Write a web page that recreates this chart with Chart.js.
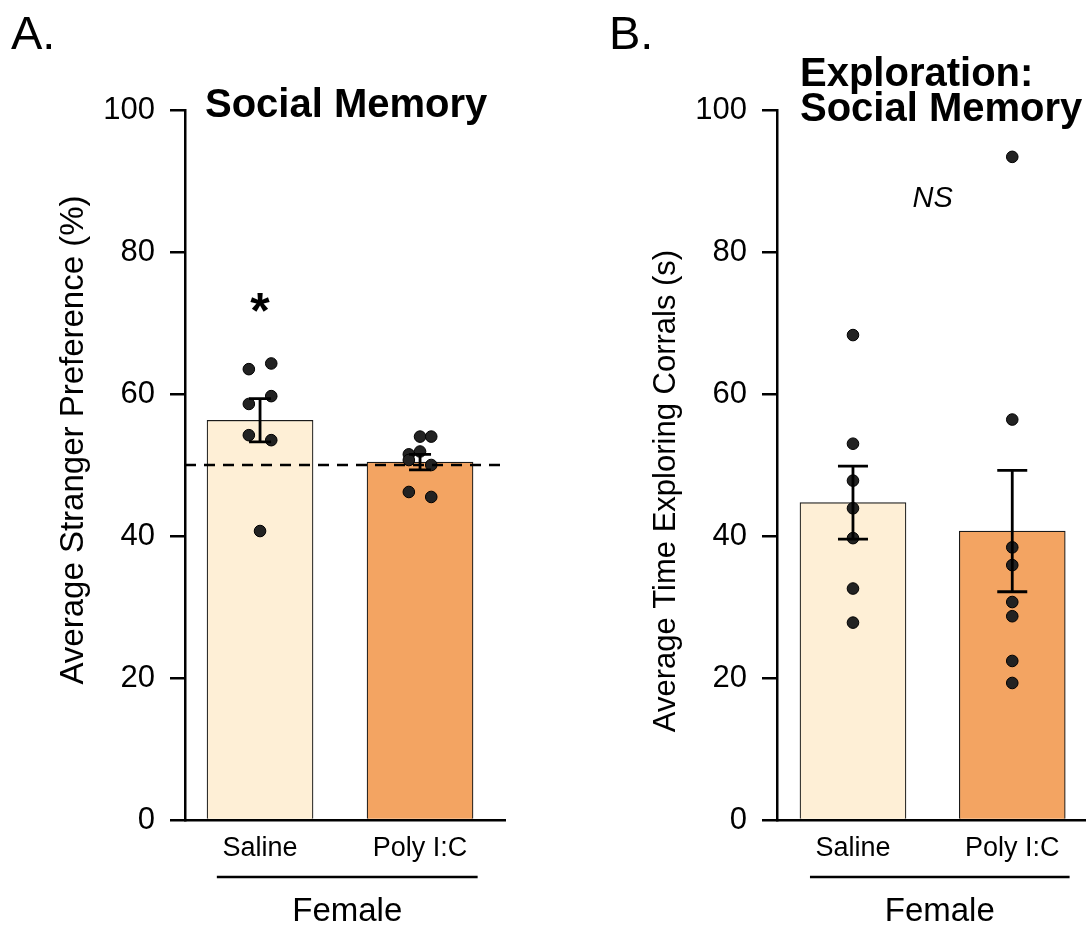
<!DOCTYPE html>
<html>
<head>
<meta charset="utf-8">
<script src="https://cdn.jsdelivr.net/npm/chart.js@4.4.1/dist/chart.umd.min.js"></script>
<style>
  html, body { margin: 0; padding: 0; background: #fff; }
  #wrap { position: relative; width: 1086px; height: 930px; }
  canvas { position: absolute; top: 0; }
  #chartA { left: 0; }
  #chartB { left: 543px; }
</style>
</head>
<body>
<div id="wrap">
  <canvas id="chartA" width="543" height="930"></canvas>
  <canvas id="chartB" width="543" height="930"></canvas>
</div>
<script>
// groups on the x axis
const groups = ["Saline", "Poly I:C"];
const yTicks = [0, 20, 40, 60, 80, 100];

// A. Social memory: stranger preference (%)
const prefMeans = [56.3, 50.4];
const prefSem = [3.05, 1.1];
const prefSaline = [63.5, 64.3, 59.7, 58.6, 54.2, 53.5, 40.7];
const prefSalineJitter = [-0.07, 0.07, 0.07, -0.07, -0.07, 0.07, 0];
const prefPoly = [54.0, 54.0, 51.5, 51.9, 50.7, 50.0, 46.2, 45.5];
const prefPolyJitter = [0, 0.07, -0.07, 0, -0.07, 0.07, -0.07, 0.07];
const chanceLevel = 50;

// B. Exploration: time exploring corrals (s)
const exploreMeans = [44.7, 40.7];
const exploreSem = [5.15, 8.55];
const exploreSaline = [68.3, 53.0, 47.8, 43.9, 39.7, 32.6, 27.8];
const explorePoly = [93.4, 56.4, 38.4, 35.9, 30.7, 28.7, 22.4, 19.3];

const barColors = ["#FEEFD6", "#F3A462"];
const FONT = "'Liberation Sans', Arial, Helvetica, sans-serif";
Chart.defaults.font.family = FONT;
Chart.defaults.color = "#000";

function dots(values, groupIndex, jitter) {
  return values.map((v, k) => ({ x: groupIndex + (jitter ? jitter[k] : 0), y: v }));
}

// draws error bars, reference line, axis titles, labels
function extrasPlugin(p) {
  return {
    id: "extras" + p.letter,
    afterDatasetsDraw(chart) {
      const ctx = chart.ctx;
      const xs = chart.scales.x;
      const ys = chart.scales.y;
      ctx.save();
      if (p.refLine !== undefined) {
        const y = ys.getPixelForValue(p.refLine);
        ctx.strokeStyle = "#000";
        ctx.lineWidth = 2.5;
        ctx.setLineDash([11, 8]);
        ctx.beginPath();
        ctx.moveTo(chart.chartArea.left, y);
        ctx.lineTo(chart.chartArea.right, y);
        ctx.stroke();
        ctx.setLineDash([]);
      }
      ctx.strokeStyle = "#000";
      ctx.lineWidth = 2.8;
      p.means.forEach((m, i) => {
        const x = xs.getPixelForValue(i);
        const top = ys.getPixelForValue(m + p.sem[i]);
        const bot = ys.getPixelForValue(m - p.sem[i]);
        ctx.beginPath();
        ctx.moveTo(x, top); ctx.lineTo(x, bot);
        ctx.moveTo(x - p.cap, top); ctx.lineTo(x + p.cap, top);
        ctx.moveTo(x - p.cap, bot); ctx.lineTo(x + p.cap, bot);
        ctx.stroke();
      });
      ctx.restore();
    },
    afterDraw(chart) {
      const ctx = chart.ctx;
      const xs = chart.scales.x;
      const ys = chart.scales.y;
      ctx.save();
      ctx.fillStyle = "#000";
      // panel letter
      ctx.font = "47px " + FONT;
      ctx.textAlign = "left";
      ctx.fillText(p.letter + ".", p.letterX, 49);
      // title
      ctx.font = "bold 40px " + FONT;
      p.title.forEach((line, k) => ctx.fillText(line, p.titleX, p.titleY[k]));
      // y title
      ctx.save();
      ctx.translate(p.yTitleX, p.yTitleY);
      ctx.rotate(-Math.PI / 2);
      ctx.textAlign = "center";
      ctx.font = p.yTitleSize + "px " + FONT;
      ctx.fillText(p.yTitle, 0, 0);
      ctx.restore();
      // bracket + Female
      const bx0 = xs.getPixelForValue(-0.27);
      const bx1 = xs.getPixelForValue(1.36);
      ctx.strokeStyle = "#000";
      ctx.lineWidth = 2.5;
      ctx.beginPath();
      ctx.moveTo(bx0, 877); ctx.lineTo(bx1, 877);
      ctx.stroke();
      ctx.textAlign = "center";
      ctx.font = "33px " + FONT;
      ctx.fillText("Female", (bx0 + bx1) / 2, 921);
      // significance marks
      p.marks.forEach(mk => {
        ctx.font = mk.font;
        ctx.fillText(mk.text, xs.getPixelForValue(mk.x), ys.getPixelForValue(mk.y) + mk.dy);
      });
      ctx.restore();
    }
  };
}

function makePanel(id, p) {
  return new Chart(document.getElementById(id), {
    data: {
      datasets: [
        {
          type: "scatter",
          order: 1,
          data: dots(p.saline, 0, p.salineJitter).concat(dots(p.poly, 1, p.polyJitter)),
          pointRadius: 5.8,
          pointBackgroundColor: "#222",
          pointBorderColor: "#000",
          pointBorderWidth: 1
        },
        {
          type: "bar",
          order: 2,
          data: p.means.map((m, i) => ({ x: i, y: m })),
          backgroundColor: barColors,
          borderColor: "#1a1a1a",
          borderWidth: 1.2,
          barThickness: 106
        }
      ]
    },
    options: {
      responsive: false,
      animation: false,
      devicePixelRatio: 1,
      layout: { autoPadding: false, padding: { top: 110, right: p.padRight, left: 0, bottom: 0 } },
      plugins: { legend: { display: false }, tooltip: { enabled: false } },
      scales: {
        x: {
          type: "linear",
          offset: false,
          min: p.xMin,
          max: p.xMax,
          afterBuildTicks: axis => { axis.ticks = groups.map((g, i) => ({ value: i })); },
          afterFit: s => { s.height = 110; },
          ticks: {
            autoSkip: false,
            maxRotation: 0,
            padding: 4,
            font: { size: 27 },
            callback: v => groups[v]
          },
          grid: { display: false, offset: false },
          border: { display: true, color: "#000", width: 2.5 }
        },
        y: {
          min: 0,
          max: 100,
          afterBuildTicks: axis => { axis.ticks = yTicks.map(v => ({ value: v })); },
          afterFit: s => { s.width = p.yWidth; },
          ticks: { padding: 15, font: { size: 31 } },
          grid: { display: true, drawOnChartArea: false, drawTicks: true, tickLength: 15, color: "#000", lineWidth: 2.5 },
          border: { display: true, color: "#000", width: 2.5 }
        }
      }
    },
    plugins: [extrasPlugin(p)]
  });
}

makePanel("chartA", {
  letter: "A", letterX: 11,
  title: ["Social Memory"], titleX: 205, titleY: [117],
  yTitle: "Average Stranger Preference (%)", yTitleSize: 33, yTitleX: 83, yTitleY: 440,
  means: prefMeans, sem: prefSem,
  saline: prefSaline, salineJitter: prefSalineJitter,
  poly: prefPoly, polyJitter: prefPolyJitter,
  refLine: chanceLevel, cap: 11,
  marks: [{ text: "*", x: 0, y: 72.8, dy: 25, font: "bold 50px " + FONT }],
  xMin: -0.469, xMax: 1.531, yWidth: 185, padRight: 38
});

makePanel("chartB", {
  letter: "B", letterX: 66,
  title: ["Exploration:", "Social Memory"], titleX: 257, titleY: [86, 121],
  yTitle: "Average Time Exploring Corrals (s)", yTitleSize: 31, yTitleX: 132, yTitleY: 491,
  means: exploreMeans, sem: exploreSem,
  saline: exploreSaline, poly: explorePoly,
  cap: 15,
  marks: [{ text: "NS", x: 0.5, y: 87.8, dy: 10, font: "italic 29px " + FONT }],
  xMin: -0.477, xMax: 1.463, yWidth: 234, padRight: 0
});
</script>
</body>
</html>
